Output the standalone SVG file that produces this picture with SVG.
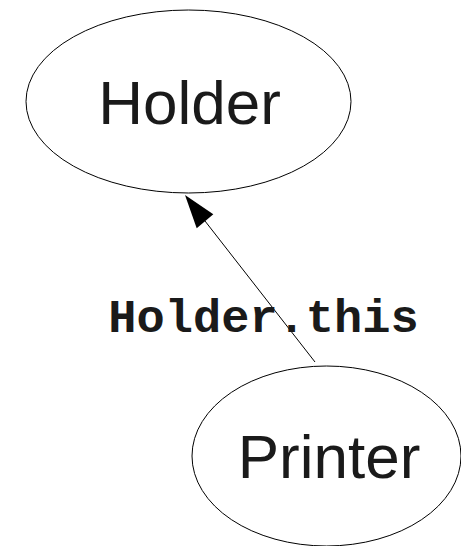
<svg xmlns="http://www.w3.org/2000/svg" width="461" height="546" viewBox="0 0 461 546">
  <style>
    .node { fill: #ffffff; stroke: #000000; stroke-width: 1; }
    .name { font-family: "Liberation Sans", Arial, sans-serif; font-size: 62px; fill: #1a1a1a; text-anchor: middle; }
    .edge { stroke: #000000; stroke-width: 1; fill: none; }
    .edge-label { font-family: "Liberation Mono", "Courier New", monospace; font-weight: bold; font-size: 47px; fill: #1a1a1a; text-anchor: middle; }
  </style>
  <defs>
    <marker id="arrow" viewBox="0 0 10 10" refX="10" refY="5" markerWidth="10" markerHeight="10" markerUnits="userSpaceOnUse" orient="auto" overflow="visible">
      <path d="M0,0 L10,5 L0,10 Z" fill="#000000"/>
    </marker>
  </defs>
  <rect width="461" height="546" fill="#ffffff"/>

  <g id="holder">
    <ellipse class="node" cx="188.5" cy="101.5" rx="162.5" ry="91.5"/>
    <text class="name" x="189.5" y="124">Holder</text>
  </g>

  <g id="printer">
    <ellipse class="node" cx="326.5" cy="456" rx="134.5" ry="90"/>
    <text class="name" x="329" y="478">Printer</text>
  </g>

  <g id="connectors">
    <line class="edge" x1="315" y1="362" x2="205" y2="221"/>
    <polygon points="185,195 196.7,228.3 213.3,214.3" fill="#000000"/>
    <text class="edge-label" x="263.5" y="332">Holder.this</text>
  </g>
</svg>
